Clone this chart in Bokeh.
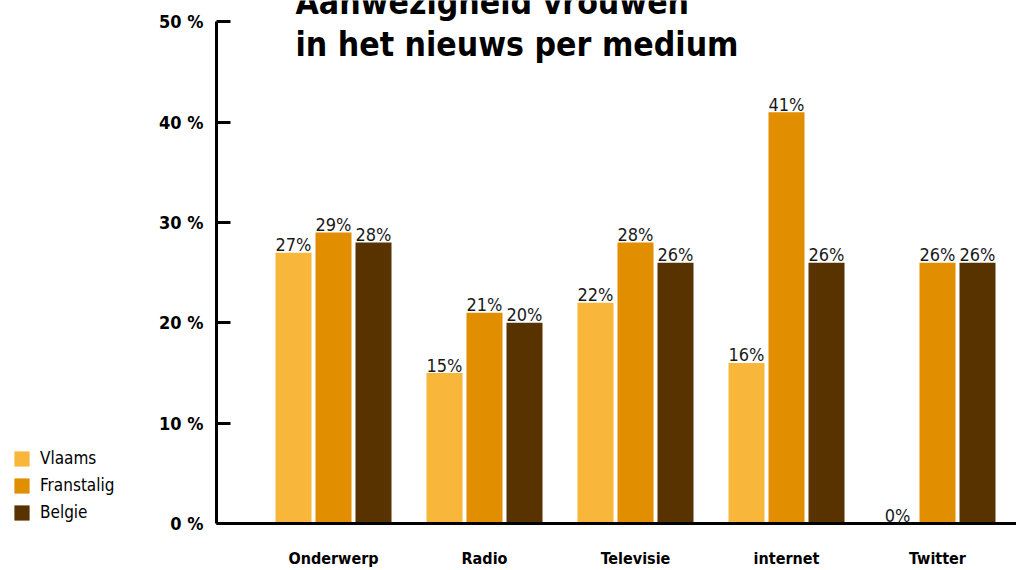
from bokeh.plotting import figure
from bokeh.layouts import row
from bokeh.models import Range1d, FixedTicker, Legend, LegendItem, ColumnDataSource
from bokeh.core.properties import value
from bokeh.embed import file_html
from bokeh.resources import INLINE

categories = ["Onderwerp", "Radio", "Televisie", "internet", "Twitter"]
series = ["Vlaams", "Franstalig", "Belgie"]
vlaams = [27, 15, 22, 16, 0]
franstalig = [29, 21, 28, 41, 26]
belgie = [28, 20, 26, 26, 26]
colors = ["#F8B63A", "#E18E00", "#583300"]
y_ticks = [0, 10, 20, 30, 40, 50]
y_tick_labels = ["0 %", "10 %", "20 %", "30 %", "40 %", "50 %"]
title_lines = ["Aanwezigheid vrouwen", "in het nieuws per medium"]

FONT = "'DejaVu Sans Condensed', 'Liberation Sans Narrow', 'DejaVu Sans', sans-serif"
all_series = [vlaams, franstalig, belgie]

H = 570
LW = 140            # width of the legend figure
RW = 1016 - LW      # width of the chart figure
FRAME_LEFT = 216
BB = 45
BL = FRAME_LEFT - LW
fw, fh = RW - BL, H - BB
PX_CAT = 151.0
PX_PCT = 10.07
x0 = -(333.0 - FRAME_LEFT) / PX_CAT

p = figure(width=RW, height=H, output_backend="svg", toolbar_location=None,
           x_range=Range1d(x0, x0 + fw / PX_CAT),
           y_range=Range1d(0, fh / PX_PCT),
           min_border_left=BL, min_border_right=0, min_border_top=0,
           min_border_bottom=BB)
p.outline_line_color = None
p.xgrid.visible = False
p.ygrid.visible = False
p.background_fill_color = "white"
p.border_fill_color = "white"

step = 40.0 / PX_CAT
bw = 36.0 / PX_CAT
for j, (name, vals) in enumerate(zip(series, all_series)):
    xs = [i + (j - 1) * step for i in range(len(categories))]
    src = ColumnDataSource(dict(x=xs, top=vals, lab=[f"{v}%" for v in vals]))
    p.vbar(x="x", top="top", bottom=0, width=bw, source=src,
           fill_color=colors[j], line_color=None)
    p.text(x="x", y="top", text="lab", source=src, text_align="center",
           text_baseline="alphabetic", y_offset=-8,
           text_font=value(FONT), text_font_size="18px", text_color="#1a1a1a")

# Y axis
ya = p.yaxis[0]
ya.bounds = (0, 50)
ya.ticker = FixedTicker(ticks=y_ticks)
ya.major_label_overrides = {t: l for t, l in zip(y_ticks, y_tick_labels)}
ya.axis_line_width = 3
ya.axis_line_color = "black"
ya.major_tick_in = 14
ya.major_tick_out = 0
ya.major_tick_line_width = 3
ya.minor_tick_line_color = None
ya.major_label_standoff = 13
ya.major_label_text_font = FONT
ya.major_label_text_font_style = "bold"
ya.major_label_text_font_size = "18px"
ya.major_label_text_color = "black"

# X axis
xa = p.xaxis[0]
xa.ticker = FixedTicker(ticks=list(range(len(categories))))
xa.major_label_overrides = {i: c for i, c in enumerate(categories)}
xa.axis_line_width = 3
xa.axis_line_color = "black"
xa.major_tick_line_color = None
xa.minor_tick_line_color = None
xa.major_tick_in = 0
xa.major_tick_out = 0
xa.major_label_standoff = 25
xa.major_label_text_font = FONT
xa.major_label_text_font_style = "bold"
xa.major_label_text_font_size = "16px"
xa.major_label_text_color = "black"

# Title (two lines)
ty = [(H - BB - 15) / PX_PCT, (H - BB - 57) / PX_PCT]
tx = x0 + (295 - FRAME_LEFT) / PX_CAT
p.text(x=[tx, tx], y=ty, text=title_lines, text_align="left",
       text_baseline="alphabetic", y_offset=-13, text_font=value(FONT),
       text_font_style="bold", text_font_size="33.5px", text_color="black")

# Legend figure (left); its bars are hidden, only the legend swatches show
lp = figure(width=LW, height=H, output_backend="svg", toolbar_location=None,
            x_range=Range1d(10, 11), y_range=Range1d(0, 100),
            x_axis_type=None, y_axis_type=None,
            min_border_left=0, min_border_right=0, min_border_top=0,
            min_border_bottom=0)
lp.outline_line_color = None
lp.xgrid.visible = False
lp.ygrid.visible = False
items = []
for j, (name, vals) in enumerate(zip(series, all_series)):
    r = lp.vbar(x=list(range(len(categories))), top=vals, width=0.5,
                fill_color=colors[j], line_color=None)
    r.visible = False
    items.append(LegendItem(label=name, renderers=[r]))

legend = Legend(items=items, location=(12, 1), glyph_width=19, glyph_height=19,
                label_height=19, spacing=7, padding=0, margin=0,
                label_standoff=9, border_line_color=None,
                background_fill_alpha=0, label_text_font=FONT,
                label_text_font_size="17px", label_text_color="black",
                click_policy="none")
lp.add_layout(legend, "center")

layout = row(lp, p, spacing=0)
open("out.html", "w").write(file_html(layout, INLINE))
